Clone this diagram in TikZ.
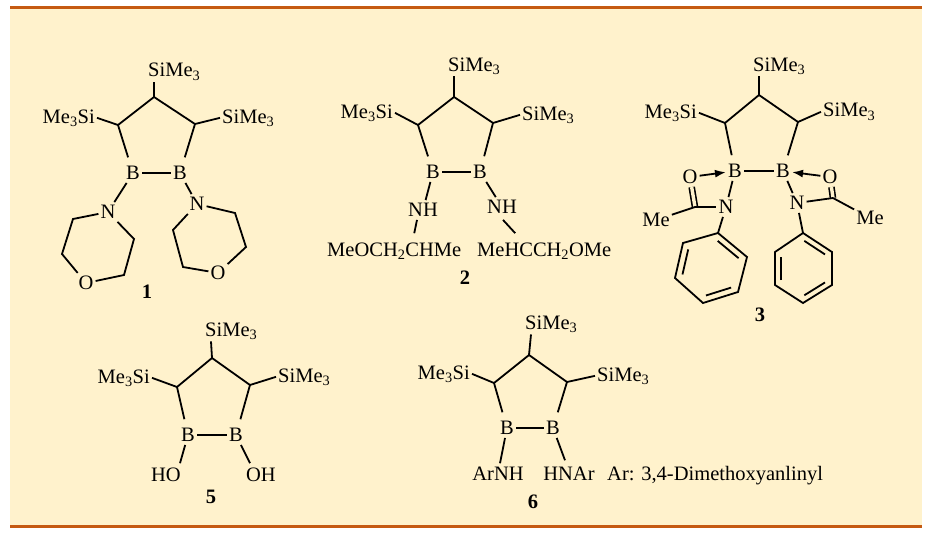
\documentclass[tikz,border=0pt]{standalone}
\usepackage{fontspec}
\setmainfont{Liberation Serif}
\usetikzlibrary{arrows.meta,calc}
\definecolor{cream}{RGB}{255,242,204}
\definecolor{rust}{RGB}{197,90,17}
\begin{document}
\begin{tikzpicture}[x=1pt,y=-1pt,
  every node/.style={font=\fontsize{20.5}{24}\selectfont, inner sep=2pt},
  atom/.style={inner xsep=2pt, inner ysep=3pt},
  bnd/.style={line width=1.8pt},
  cbnd/.style={bnd, shorten >=6pt},
  dbl/.style={line width=1.6pt, double=cream, double distance=3.4pt},
  arr/.style={bnd, -{Latex[length=11pt,width=8pt]}},
  num/.style={font=\fontsize{20.5}{24}\selectfont\bfseries}]
\useasboundingbox (0,0) rectangle (932,535);
\fill[white] (0,0) rectangle (932,535);
\fill[cream] (10,9) rectangle (922,525);
\fill[rust] (10,6.5) rectangle (922,9.5);
\fill[rust] (10,524.5) rectangle (922,527.5);

% ---------- molecule 1 ----------
\coordinate (a1) at (154,97);
\coordinate (a2) at (118,125);
\coordinate (a3) at (195,124);
\node[anchor=base west] (a1s) at (146,77) {SiMe\textsubscript{3}};
\node[anchor=base east] (a2s) at (97,123) {Me\textsubscript{3}Si};
\node[anchor=base west] (a3s) at (220,123) {SiMe\textsubscript{3}};
\node[atom] (ab1) at (133,173) {B};
\node[atom] (ab2) at (180,173) {B};
\node[atom] (an1) at (108,212) {N};
\node[atom] (an2) at (197,204) {N};
\node[atom] (ao1) at (86,283) {O};
\node[atom] (ao2) at (218,273) {O};
\coordinate (am1) at (73,219);
\coordinate (am2) at (62,254);
\coordinate (am3) at (124,275);
\coordinate (am4) at (134,239);
\coordinate (am5) at (235,213);
\coordinate (am6) at (246,247);
\coordinate (am7) at (183,267);
\coordinate (am8) at (173,230);
\draw[bnd] (a2) -- (a1) -- (a3);
\draw[bnd] (a1) -- ([xshift=8pt]a1s.south west);
\draw[bnd] (a2) -- (a2s.east);
\draw[bnd] (a3) -- (a3s.west);
\draw[cbnd] (a2) -- (ab1);
\draw[cbnd] (a3) -- (ab2);
\draw[bnd] (ab1) -- (ab2);
\draw[bnd] (ab1) -- (an1);
\draw[bnd] (ab2) -- (an2);
\draw[bnd] (an1) -- (am1) -- (am2) -- (ao1);
\draw[bnd] (ao1) -- (am3) -- (am4) -- (an1);
\draw[bnd] (an2) -- (am5) -- (am6) -- (ao2);
\draw[bnd] (ao2) -- (am7) -- (am8) -- (an2);
\node[num] (lab1) at (147,292) {1};

% ---------- molecule 2 ----------
\coordinate (b1) at (454,97);
\coordinate (b2) at (418,125);
\coordinate (b3) at (493,123);
\node[anchor=base west] (b1s) at (446,71) {SiMe\textsubscript{3}};
\node[anchor=base east] (b2s) at (395,118) {Me\textsubscript{3}Si};
\node[anchor=base west] (b3s) at (520,120) {SiMe\textsubscript{3}};
\node[atom] (bb1) at (433,172) {B};
\node[atom] (bb2) at (480,172) {B};
\node[atom] (bn1) at (423,210) {NH};
\node[atom] (bn2) at (502,207) {NH};
\node[anchor=base west] (bl1) at (325,256) {MeOCH\textsubscript{2}CHMe};
\node[anchor=base west] (bl2) at (475,256) {MeHCCH\textsubscript{2}OMe};
\draw[bnd] (b2) -- (b1) -- (b3);
\draw[bnd] (b1) -- ([xshift=8pt]b1s.south west);
\draw[bnd] (b2) -- (b2s.east);
\draw[bnd] (b3) -- (b3s.west);
\draw[cbnd] (b2) -- (bb1);
\draw[cbnd] (b3) -- (bb2);
\draw[bnd] (bb1) -- (bb2);
\draw[bnd] (bb1) -- (bn1);
\draw[bnd] (bb2) -- (bn2);
\draw[bnd] ([xshift=-6pt]bn1.south) -- ([xshift=20pt,yshift=7pt]bl1.north);
\draw[bnd] ([xshift=1pt,yshift=-3pt]bn2.south) -- ([xshift=-29pt,yshift=7pt]bl2.north);
\node[num] (lab2) at (465,278) {2};

% ---------- molecule 3 ----------
\coordinate (c1) at (759,95);
\coordinate (c2) at (725,123);
\coordinate (c3) at (798,122);
\node[anchor=base west] (c1s) at (751,71) {SiMe\textsubscript{3}};
\node[anchor=base east] (c2s) at (699,118) {Me\textsubscript{3}Si};
\node[anchor=base west] (c3s) at (821,117) {SiMe\textsubscript{3}};
\node[atom] (cb1) at (735,171) {B};
\node[atom] (cb2) at (783,171) {B};
\node[atom] (co1) at (690,177) {O};
\node[atom] (co2) at (830,177) {O};
\node[atom] (cn1) at (726,207) {N};
\node[atom] (cn2) at (797,203) {N};
\coordinate (cl) at (695,207);
\coordinate (cr) at (833,198);
\node[atom] (cme1) at (656,220) {Me};
\node[atom] (cme2) at (870,218) {Me};
\draw[bnd] (c2) -- (c1) -- (c3);
\draw[bnd] (c1) -- ([xshift=8pt]c1s.south west);
\draw[bnd] (c2) -- (c2s.east);
\draw[bnd] (c3) -- (c3s.west);
\draw[cbnd] (c2) -- (cb1);
\draw[cbnd] (c3) -- (cb2);
\draw[bnd] (cb1) -- (cb2);
\draw[bnd] (cb1) -- (cn1);
\draw[bnd] (cb2) -- (cn2);
\draw[arr] (co1) -- (cb1);
\draw[arr] (co2) -- (cb2);
\draw[dbl] (co1) -- (cl);
\draw[dbl] (co2) -- (cr);
\draw[bnd] (cl) -- (cn1);
\draw[bnd] (cl) -- (cme1);
\draw[bnd] (cr) -- (cn2);
\draw[bnd] (cr) -- (cme2);
% left phenyl
\coordinate (l1) at (718,233);
\coordinate (l2) at (747,257);
\coordinate (l3) at (738,292);
\coordinate (l4) at (703,303);
\coordinate (l5) at (675,278);
\coordinate (l6) at (683,243);
\coordinate (lc) at (710.7,267.7);
\draw[bnd] (cn1) -- (l1);
\draw[bnd, line join=miter] (l1) -- (l2) -- (l3) -- (l4) -- (l5) -- (l6) -- cycle;
\draw[bnd, shorten <=1.5pt, shorten >=1.5pt] ($(l1)!0.2!(lc)$) -- ($(l2)!0.2!(lc)$);
\draw[bnd, shorten <=1.5pt, shorten >=1.5pt] ($(l3)!0.2!(lc)$) -- ($(l4)!0.2!(lc)$);
\draw[bnd, shorten <=1.5pt, shorten >=1.5pt] ($(l5)!0.2!(lc)$) -- ($(l6)!0.2!(lc)$);
% right phenyl
\coordinate (r1) at (803,233);
\coordinate (r2) at (832,252);
\coordinate (r3) at (832,285);
\coordinate (r4) at (803,303);
\coordinate (r5) at (775,285);
\coordinate (r6) at (775,252);
\coordinate (rc) at (803.3,268.3);
\draw[bnd] (cn2) -- (r1);
\draw[bnd, line join=miter] (r1) -- (r2) -- (r3) -- (r4) -- (r5) -- (r6) -- cycle;
\draw[bnd, shorten <=1.5pt, shorten >=1.5pt] ($(r1)!0.2!(rc)$) -- ($(r2)!0.2!(rc)$);
\draw[bnd, shorten <=1.5pt, shorten >=1.5pt] ($(r3)!0.2!(rc)$) -- ($(r4)!0.2!(rc)$);
\draw[bnd, shorten <=1.5pt, shorten >=1.5pt] ($(r5)!0.2!(rc)$) -- ($(r6)!0.2!(rc)$);
\node[num] (lab3) at (760,315) {3};

% ---------- molecule 5 ----------
\coordinate (e1) at (212,358);
\coordinate (e2) at (177,387);
\coordinate (e3) at (250,385);
\node[anchor=base west] (e1s) at (203,336) {SiMe\textsubscript{3}};
\node[anchor=base east] (e2s) at (152,383) {Me\textsubscript{3}Si};
\node[anchor=base west] (e3s) at (276,382) {SiMe\textsubscript{3}};
\node[atom] (eb1) at (188,435) {B};
\node[atom] (eb2) at (236,435) {B};
\node[anchor=base] (eho) at (166,481) {HO};
\node[anchor=base] (eoh) at (261,481) {OH};
\draw[bnd] (e2) -- (e1) -- (e3);
\draw[bnd] (e1) -- ([xshift=8pt]e1s.south west);
\draw[bnd] (e2) -- (e2s.east);
\draw[bnd] (e3) -- (e3s.west);
\draw[cbnd] (e2) -- (eb1);
\draw[cbnd] (e3) -- (eb2);
\draw[bnd] (eb1) -- (eb2);
\draw[bnd] (eb1) -- ([xshift=14pt,yshift=2pt]eho.north);
\draw[bnd] (eb2) -- ([xshift=-11pt,yshift=2pt]eoh.north);
\node[num] (lab5) at (211,497) {5};

% ---------- molecule 6 ----------
\coordinate (f1) at (529,355);
\coordinate (f2) at (494,383);
\coordinate (f3) at (567,382);
\node[anchor=base west] (f1s) at (523,329) {SiMe\textsubscript{3}};
\node[anchor=base east] (f2s) at (472,379) {Me\textsubscript{3}Si};
\node[anchor=base west] (f3s) at (595,381) {SiMe\textsubscript{3}};
\node[atom] (fb1) at (507,428) {B};
\node[atom] (fb2) at (553,428) {B};
\node[anchor=base] (fa1) at (498,480) {ArNH};
\node[anchor=base] (fa2) at (569,480) {HNAr};
\node[anchor=base west] (fnote) at (605,480) {Ar: 3,4-Dimethoxyanlinyl};
\draw[bnd] (f2) -- (f1) -- (f3);
\draw[bnd] (f1) -- ([xshift=8pt]f1s.south west);
\draw[bnd] (f2) -- (f2s.east);
\draw[bnd] (f3) -- (f3s.west);
\draw[cbnd] (f2) -- (fb1);
\draw[cbnd] (f3) -- (fb2);
\draw[bnd] (fb1) -- (fb2);
\draw[bnd] (fb1) -- ([xshift=2pt,yshift=1pt]fa1.north);
\draw[bnd] (fb2) -- ([xshift=-4pt,yshift=4pt]fa2.north);
\node[num] (lab6) at (533,502) {6};
\end{tikzpicture}
\end{document}
